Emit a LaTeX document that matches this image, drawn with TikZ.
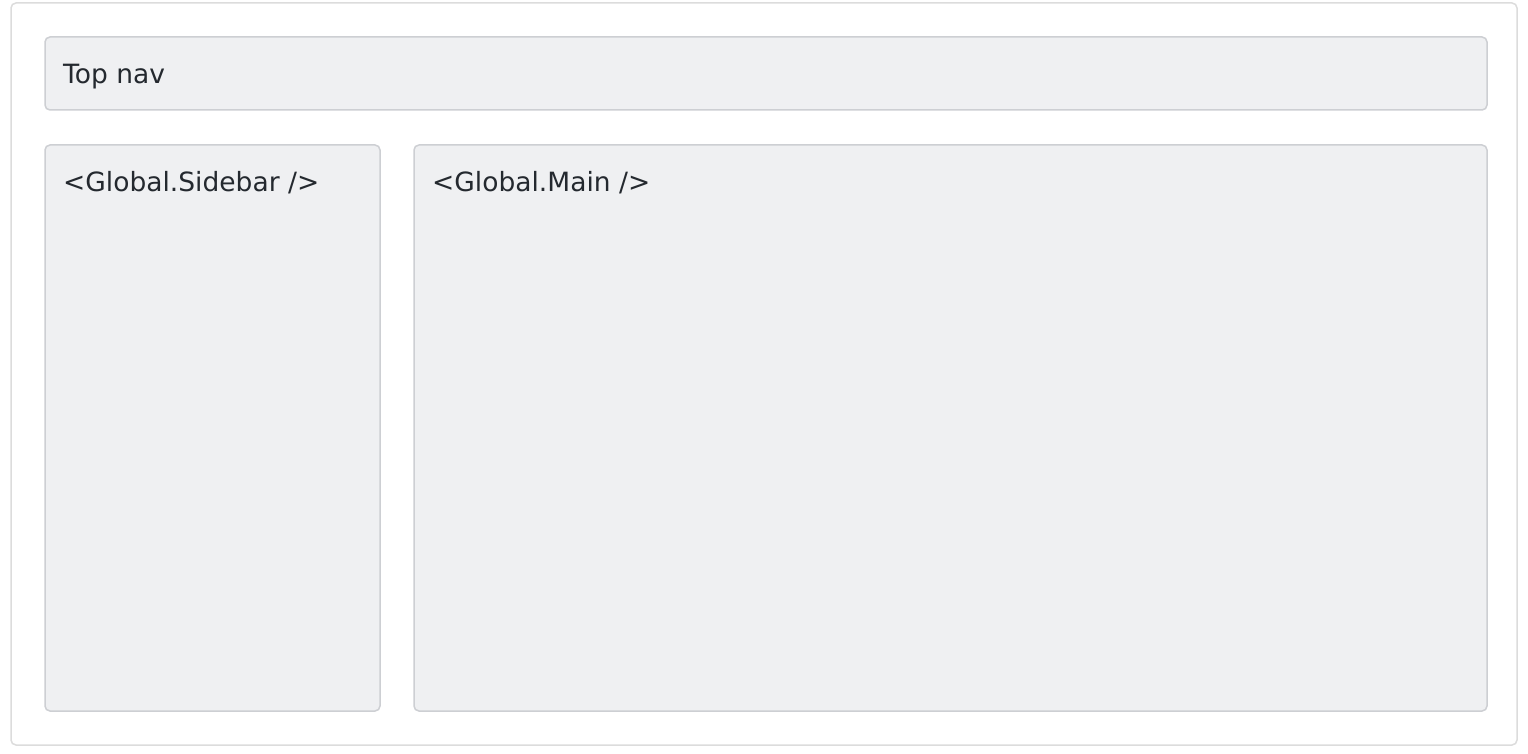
\documentclass[tikz,border=0pt]{standalone}
\usepackage{fontspec}
\setmainfont{DejaVu Sans}
\usetikzlibrary{positioning}
\definecolor{panelfill}{HTML}{EFF0F2}
\definecolor{paneldraw}{HTML}{CDCFD3}
\definecolor{framedraw}{HTML}{DCDCDC}
\definecolor{labeltext}{HTML}{24292F}
\begin{document}
\begin{tikzpicture} [
        x=1pt, y=-1pt,
        frame/.style = {draw=framedraw,line width=1.5pt,rounded corners=5pt,fill=white},
        panel/.style = {draw=paneldraw,line width=1.5pt,rounded corners=5pt,fill=panelfill},
        tag/.style = {anchor=base west,inner sep=0pt,text=labeltext,font=\fontsize{26.5}{30}\selectfont},
    ]
    \useasboundingbox (0,0) rectangle (1528,754);
    % outer frame
    \draw[frame] (11,3) rectangle (1517,745);
    % the three panels
    \foreach \name/\nw/\se in {
            topnav/{(45,37)}/{(1487,110)},
            sidebar/{(45,145)}/{(380,711)},
            main/{(414,145)}/{(1487,711)}}
        \draw[panel] \nw rectangle \se coordinate (\name-se) \nw coordinate (\name);
    % labels
    \foreach \name/\tagtext in {
            topnav/{Top nav},
            sidebar/{<Global.Sidebar />},
            main/{<Global.Main />}}
        \node[tag] (\name-label) at ([shift={(18,47)}]\name) {\tagtext};
\end{tikzpicture}
\end{document}
